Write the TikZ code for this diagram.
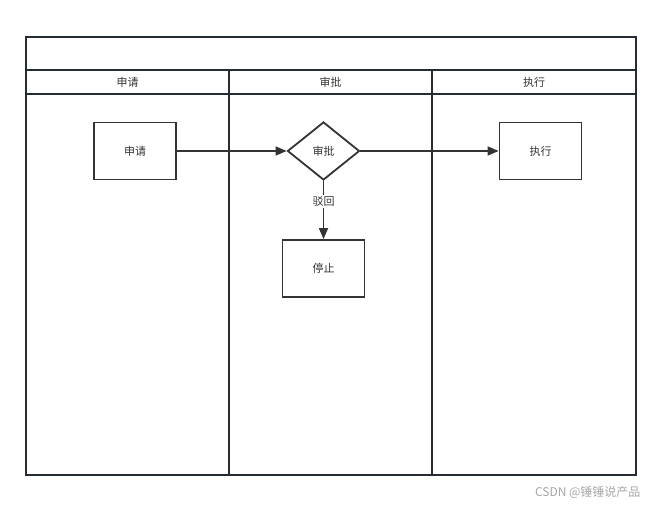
\documentclass[tikz,border=0pt]{standalone}
\usepackage{fontspec}
\newfontfamily\cjk{Noto Sans CJK SC}
\usetikzlibrary{shapes.geometric,arrows.meta}
\definecolor{frame}{HTML}{252C36}
\definecolor{ink}{HTML}{333333}
\definecolor{wm}{HTML}{A6A6A6}
\tikzset{
  lane/.style={draw=frame,line width=1.9pt},
  box/.style={draw=ink,line width=1.8pt,minimum width=82pt,minimum height=57pt,inner sep=0pt,font=\cjk\fontsize{11}{13}\selectfont,text=ink},
  dia/.style={draw=ink,line width=1.8pt,diamond,minimum width=72pt,minimum height=58pt,inner sep=0pt,font=\cjk\fontsize{11}{13}\selectfont,text=ink},
  conn/.style={draw=ink,line width=1.7pt,-{Triangle[length=11pt,width=9pt]}},
  hdr/.style={font=\cjk\fontsize{11}{13}\selectfont,text=ink},
}
\begin{document}
\begin{tikzpicture}[x=1pt,y=-1pt]
\useasboundingbox (0,0) rectangle (651,506);
% frame
\draw[lane] (26,37) rectangle (636,475);
\draw[lane] (26,70) -- (636,70);
\draw[lane] (26,94) -- (636,94);
\draw[lane] (229,70) -- (229,475);
\draw[lane] (432,70) -- (432,475);
\node[hdr] (h1) at (127.5,82) {申请};
\node[hdr] (h2) at (330.5,82) {审批};
\node[hdr] (h3) at (534,82) {执行};
% nodes
\node[box] (apply) at (135,151) {申请};
\node[dia] (approve) at (323.5,151) {审批};
\node[box] (exec) at (540.5,151) {执行};
\node[box] (stop) at (323.5,268.5) {停止};
% connectors
\draw[conn] (apply) -- (approve);
\draw[conn] (approve) -- (exec);
\draw[conn] (approve) -- node[fill=white,inner sep=1.5pt,font=\cjk\fontsize{11}{13}\selectfont,text=ink,pos=0.36] {驳回} (stop);
% watermark
\node[font=\cjk\fontsize{12}{14}\selectfont,text=wm,anchor=east] (wmk) at (644,492) {CSDN @锤锤说产品};
\end{tikzpicture}
\end{document}
